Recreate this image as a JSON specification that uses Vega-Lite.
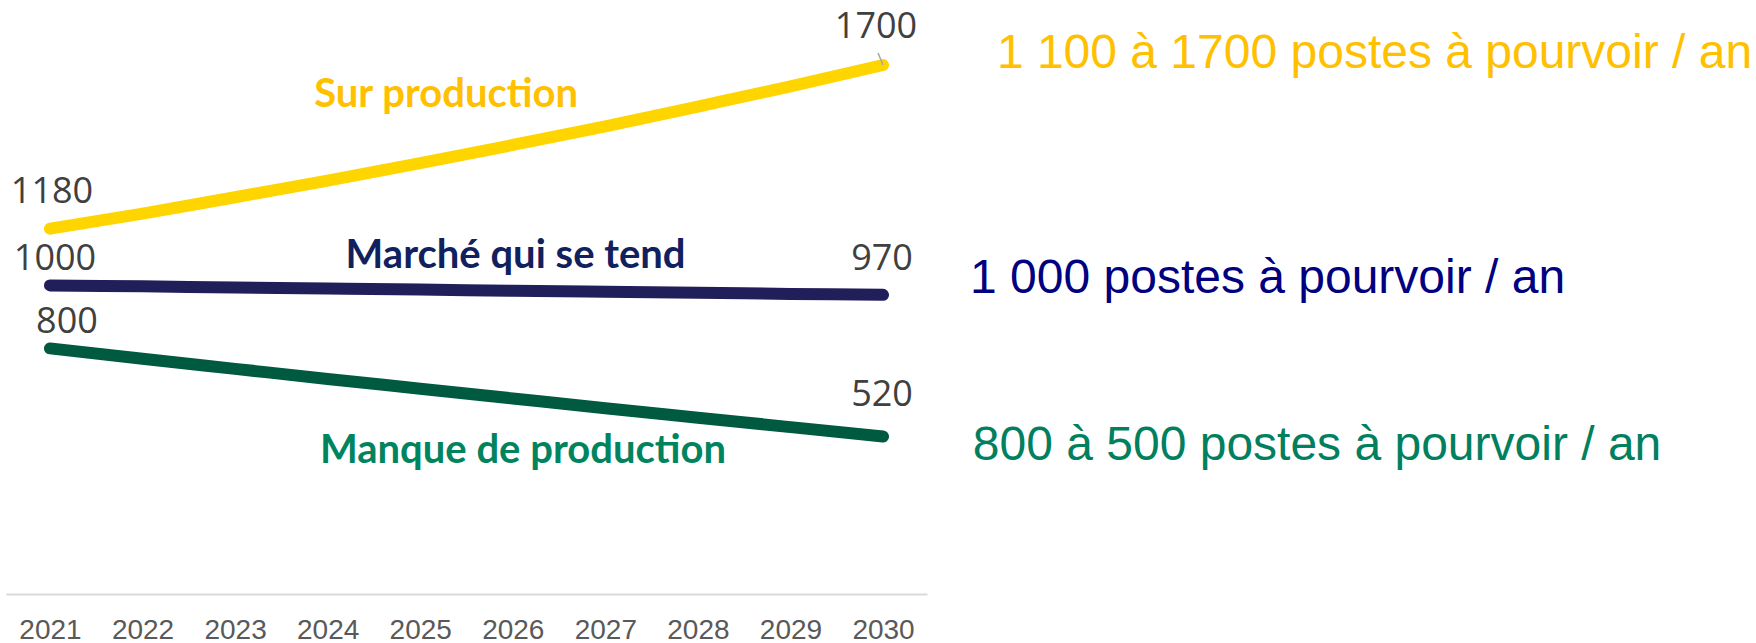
{
  "$schema": "https://vega.github.io/schema/vega-lite/v6.json",
  "width": 921,
  "height": 592,
  "autosize": "none",
  "padding": {"left": 6, "top": 2, "right": 829, "bottom": 49},
  "background": "white",
  "config": {"view": {"stroke": null}},
  "datasets": {
    "series": [
      {"year": 2021, "scenario": "Sur production", "value": 1180},
      {"year": 2022, "scenario": "Sur production", "value": 1228},
      {"year": 2023, "scenario": "Sur production", "value": 1280},
      {"year": 2024, "scenario": "Sur production", "value": 1333},
      {"year": 2025, "scenario": "Sur production", "value": 1388},
      {"year": 2026, "scenario": "Sur production", "value": 1446},
      {"year": 2027, "scenario": "Sur production", "value": 1505},
      {"year": 2028, "scenario": "Sur production", "value": 1568},
      {"year": 2029, "scenario": "Sur production", "value": 1632},
      {"year": 2030, "scenario": "Sur production", "value": 1700},
      {"year": 2021, "scenario": "Marché qui se tend", "value": 1000},
      {"year": 2022, "scenario": "Marché qui se tend", "value": 997},
      {"year": 2023, "scenario": "Marché qui se tend", "value": 993},
      {"year": 2024, "scenario": "Marché qui se tend", "value": 990},
      {"year": 2025, "scenario": "Marché qui se tend", "value": 987},
      {"year": 2026, "scenario": "Marché qui se tend", "value": 983},
      {"year": 2027, "scenario": "Marché qui se tend", "value": 980},
      {"year": 2028, "scenario": "Marché qui se tend", "value": 977},
      {"year": 2029, "scenario": "Marché qui se tend", "value": 973},
      {"year": 2030, "scenario": "Marché qui se tend", "value": 970},
      {"year": 2021, "scenario": "Manque de production", "value": 800},
      {"year": 2022, "scenario": "Manque de production", "value": 767},
      {"year": 2023, "scenario": "Manque de production", "value": 735},
      {"year": 2024, "scenario": "Manque de production", "value": 703},
      {"year": 2025, "scenario": "Manque de production", "value": 672},
      {"year": 2026, "scenario": "Manque de production", "value": 641},
      {"year": 2027, "scenario": "Manque de production", "value": 610},
      {"year": 2028, "scenario": "Manque de production", "value": 580},
      {"year": 2029, "scenario": "Manque de production", "value": 550},
      {"year": 2030, "scenario": "Manque de production", "value": 520}
    ],
    "one": [{"n": 1}]
  },
  "layer": [
    {
      "data": {"name": "series"},
      "mark": {"type": "line", "strokeWidth": 12, "strokeCap": "round", "strokeJoin": "round", "interpolate": "monotone"},
      "encoding": {
        "x": {
          "field": "year",
          "type": "quantitative",
          "scale": {"domain": [2020.525, 2030.475], "nice": false, "zero": false},
          "axis": {
            "values": [2021, 2022, 2023, 2024, 2025, 2026, 2027, 2028, 2029, 2030],
            "format": "d",
            "title": null,
            "grid": false,
            "ticks": false,
            "labelFont": "Liberation Sans",
            "labelFontSize": 28,
            "labelColor": "#595959",
            "labelPadding": 22,
            "labelFlush": false,
            "labelOverlap": false,
            "domainColor": "#D9D9D9",
            "domainWidth": 2
          }
        },
        "y": {
          "field": "value",
          "type": "quantitative",
          "scale": {"domain": [20, 1900], "nice": false, "zero": false},
          "axis": null
        },
        "color": {
          "field": "scenario",
          "type": "nominal",
          "scale": {"domain": ["Sur production", "Marché qui se tend", "Manque de production"], "range": ["#FFD500", "#211F5A", "#005A3F"]},
          "legend": null
        }
      }
    },
    {
      "data": {"name": "series"},
      "transform": [{"filter": "datum.year === 2021 && datum.scenario === 'Sur production'"}],
      "mark": {"type": "text", "font": "Open Sans", "fontSize": 36, "color": "#404040", "align": "center", "baseline": "alphabetic", "dx": 2, "dy": -26},
      "encoding": {"x": {"field": "year", "type": "quantitative"}, "y": {"field": "value", "type": "quantitative"}, "text": {"field": "value", "type": "quantitative", "format": "d"}}
    },
    {
      "data": {"name": "series"},
      "transform": [{"filter": "datum.year === 2021 && datum.scenario === 'Marché qui se tend'"}],
      "mark": {"type": "text", "font": "Open Sans", "fontSize": 36, "color": "#404040", "align": "center", "baseline": "alphabetic", "dx": 5, "dy": -15},
      "encoding": {"x": {"field": "year", "type": "quantitative"}, "y": {"field": "value", "type": "quantitative"}, "text": {"field": "value", "type": "quantitative", "format": "d"}}
    },
    {
      "data": {"name": "series"},
      "transform": [{"filter": "datum.year === 2021 && datum.scenario === 'Manque de production'"}],
      "mark": {"type": "text", "font": "Open Sans", "fontSize": 36, "color": "#404040", "align": "center", "baseline": "alphabetic", "dx": 17, "dy": -15},
      "encoding": {"x": {"field": "year", "type": "quantitative"}, "y": {"field": "value", "type": "quantitative"}, "text": {"field": "value", "type": "quantitative", "format": "d"}}
    },
    {
      "data": {"name": "series"},
      "transform": [{"filter": "datum.year === 2030 && datum.scenario === 'Sur production'"}],
      "mark": {"type": "text", "font": "Open Sans", "fontSize": 36, "color": "#404040", "align": "center", "baseline": "alphabetic", "dx": -7, "dy": -27},
      "encoding": {"x": {"field": "year", "type": "quantitative"}, "y": {"field": "value", "type": "quantitative"}, "text": {"field": "value", "type": "quantitative", "format": "d"}}
    },
    {
      "data": {"name": "series"},
      "transform": [{"filter": "datum.year === 2030 && datum.scenario === 'Marché qui se tend'"}],
      "mark": {"type": "text", "font": "Open Sans", "fontSize": 36, "color": "#404040", "align": "center", "baseline": "alphabetic", "dx": -1, "dy": -25},
      "encoding": {"x": {"field": "year", "type": "quantitative"}, "y": {"field": "value", "type": "quantitative"}, "text": {"field": "value", "type": "quantitative", "format": "d"}}
    },
    {
      "data": {"name": "series"},
      "transform": [{"filter": "datum.year === 2030 && datum.scenario === 'Manque de production'"}],
      "mark": {"type": "text", "font": "Open Sans", "fontSize": 36, "color": "#404040", "align": "center", "baseline": "alphabetic", "dx": -1, "dy": -31},
      "encoding": {"x": {"field": "year", "type": "quantitative"}, "y": {"field": "value", "type": "quantitative"}, "text": {"field": "value", "type": "quantitative", "format": "d"}}
    },
    {
      "data": {"name": "one"},
      "mark": {"type": "rule", "color": "#A6A6A6", "strokeWidth": 1.5},
      "encoding": {
        "x": {"datum": 2029.946, "type": "quantitative"},
        "y": {"datum": 1738, "type": "quantitative"},
        "x2": {"datum": 2030},
        "y2": {"datum": 1700}
      }
    },
    {
      "data": {"name": "one"},
      "mark": {"type": "text", "text": "Sur production", "font": "Lato", "fontWeight": "bold", "fontSize": 40, "color": "#FFC000", "align": "center", "baseline": "alphabetic"},
      "encoding": {
        "x": {"datum": 2025.28, "type": "quantitative"},
        "y": {"datum": 1567, "type": "quantitative"}
      }
    },
    {
      "data": {"name": "one"},
      "mark": {"type": "text", "text": "Marché qui se tend", "font": "Lato", "fontWeight": "bold", "fontSize": 40, "color": "#10215E", "align": "center", "baseline": "alphabetic"},
      "encoding": {
        "x": {"datum": 2026.03, "type": "quantitative"},
        "y": {"datum": 1055, "type": "quantitative"}
      }
    },
    {
      "data": {"name": "one"},
      "mark": {"type": "text", "text": "Manque de production", "font": "Lato", "fontWeight": "bold", "fontSize": 40, "color": "#00845F", "align": "center", "baseline": "alphabetic"},
      "encoding": {
        "x": {"datum": 2026.11, "type": "quantitative"},
        "y": {"datum": 436, "type": "quantitative"}
      }
    },
    {
      "data": {"name": "one"},
      "mark": {"type": "text", "text": "1 100 à 1700 postes à pourvoir / an", "font": "Liberation Sans", "fontSize": 48, "color": "#FFC000", "align": "left", "baseline": "alphabetic"},
      "encoding": {
        "x": {"datum": 2031.23, "type": "quantitative"},
        "y": {"datum": 1690, "type": "quantitative"}
      }
    },
    {
      "data": {"name": "one"},
      "mark": {"type": "text", "text": "1 000 postes à pourvoir / an", "font": "Liberation Sans", "fontSize": 48, "color": "#000080", "align": "left", "baseline": "alphabetic"},
      "encoding": {
        "x": {"datum": 2030.94, "type": "quantitative"},
        "y": {"datum": 976, "type": "quantitative"}
      }
    },
    {
      "data": {"name": "one"},
      "mark": {"type": "text", "text": "800 à 500 postes à pourvoir / an", "font": "Liberation Sans", "fontSize": 48, "color": "#00805E", "align": "left", "baseline": "alphabetic"},
      "encoding": {
        "x": {"datum": 2030.97, "type": "quantitative"},
        "y": {"datum": 445, "type": "quantitative"}
      }
    }
  ]
}
